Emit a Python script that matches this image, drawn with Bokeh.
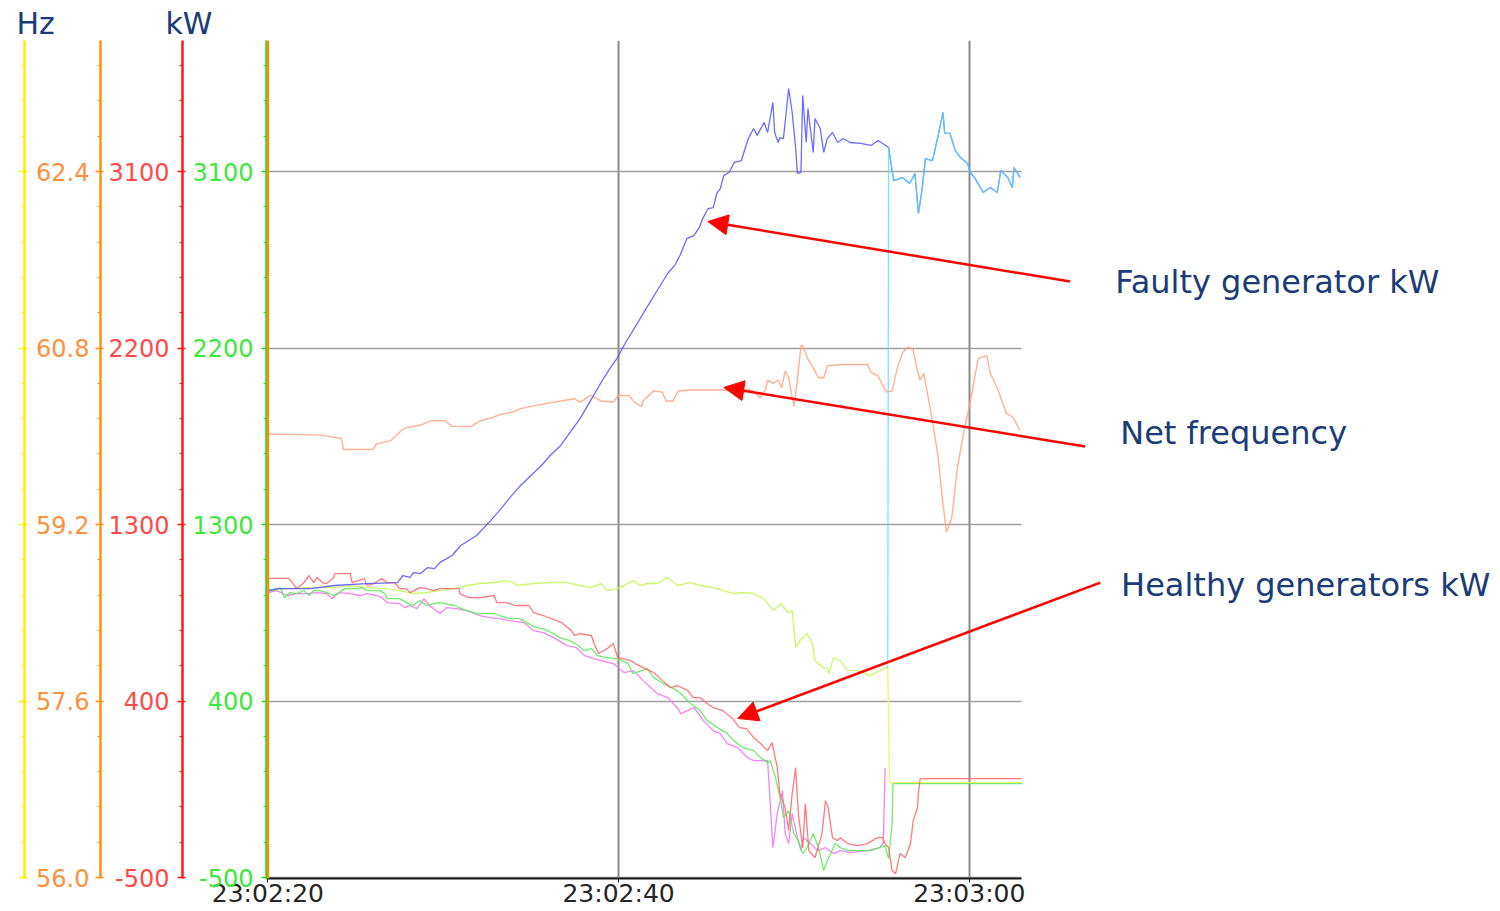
import numpy as np
from bokeh.plotting import figure
from bokeh.layouts import column
from bokeh.models import (LinearAxis, Range1d, FixedTicker, Label, Arrow,
                          NormalHead, Span)
from bokeh.embed import file_html
from bokeh.resources import INLINE

FONT = "DejaVu Sans"
NAVY = "#1b3c78"

# ---------------- data (time in s after 23:02:20) ----------------
x_tick_values = [0, 20, 40]
x_tick_labels = ["23:02:20", "23:02:40", "23:03:00"]
kw_ticks = [-500, 400, 1300, 2200, 3100]
kw_tick_labels = ["-500", "400", "1300", "2200", "3100"]
hz_ticks = [56.0, 57.6, 59.2, 60.8, 62.4]
hz_tick_labels = ["56.0", "57.6", "59.2", "60.8", "62.4"]

faulty_t = [0, 0.5, 2.4, 3.8, 5.6, 7.4, 7.7, 8.1, 8.3, 8.7, 9.1, 9.5, 9.8, 10.2, 10.5,
            11.0, 11.9, 12.7, 13.3, 13.8, 14.4, 15.0, 15.6, 16.1, 16.7, 17.3, 17.8, 18.4,
            19.0, 19.5, 19.9, 20.4, 21.0, 21.5, 22.1, 22.8, 23.2, 23.5, 23.9, 24.3, 24.6,
            24.8, 25.1, 25.4, 25.6, 25.8, 26.0, 26.3, 26.6, 27.0, 27.4, 27.7, 27.9, 28.3,
            28.5, 28.8, 28.9, 29.1, 29.2, 29.4, 29.7, 29.9, 30.1, 30.2, 30.4, 30.5, 30.7,
            30.8, 31.1, 31.2, 31.5, 31.7, 31.9, 32.2, 32.5, 32.8, 33.2, 33.8, 34.4, 34.8,
            35.4, 35.6, 35.7, 36.2, 36.6, 36.9, 37.1, 37.3, 37.5, 37.9, 38.2, 38.5, 38.6,
            38.9, 39.2, 39.5, 39.9, 40.1, 40.3, 40.8, 41.2, 41.6, 41.8, 42.2, 42.45, 42.55, 42.9]
faulty_kw = [960, 973, 973, 989, 999, 1004, 1040, 1030, 1055, 1050, 1080, 1075, 1106, 1126, 1142,
             1193, 1244, 1320, 1381, 1437, 1498, 1550, 1601, 1652, 1703, 1779, 1840, 1932,
             2024, 2095, 2146, 2228, 2315, 2391, 2478, 2580, 2621, 2672, 2758, 2774, 2814,
             2860, 2911, 2916, 2988, 3013, 3080, 3095, 3146, 3156, 3268, 3319, 3284, 3350,
             3299, 3452, 3299, 3248, 3273, 3268, 3523, 3401, 3217, 3090, 3095, 3488, 3248,
             3421, 3197, 3370, 3319, 3197, 3268, 3299, 3248, 3268, 3248, 3243, 3233, 3258,
             3222, 3105, 3054, 3069, 3039, 3090, 2886, 3003, 3166, 3156, 3273, 3401, 3294,
             3294, 3207, 3171, 3141, 3090, 3069, 2993, 3018, 2993, 3105, 3069, 3018, 3120, 3069]

freq_t = [0, 3.0, 4.2, 4.3, 6.0, 6.2, 7.0, 7.6, 7.9, 8.7, 9.3, 10.1, 10.5, 11.6, 12.1, 12.8,
          13.3, 14.0, 14.4, 15.3, 16.7, 17.5, 17.8, 18.4, 19.0, 19.7, 20.0, 20.6, 20.9, 21.3,
          21.4, 22.0, 22.5, 22.7, 23.1, 23.4, 24.1, 25.8, 26.8, 27.0, 27.4, 27.7, 28.1, 28.4,
          28.5, 28.8, 29.1, 29.3, 29.5, 29.7, 30.0, 30.2, 30.4, 30.5, 30.8, 31.1, 31.4, 31.7,
          31.9, 32.8, 34.2, 34.4, 34.8, 35.0, 35.3, 35.6, 35.9, 36.2, 36.5, 36.8, 37.0, 37.2,
          37.4, 37.8, 38.2, 38.5, 38.7, 39.0, 39.3, 39.7, 40.1, 40.5, 40.6, 41.0, 41.2, 41.6,
          42.1, 42.5, 42.9]
freq_hz = [60.02, 60.01, 59.98, 59.88, 59.88, 59.93, 59.96, 60.05, 60.08, 60.10, 60.14, 60.14,
           60.09, 60.09, 60.14, 60.17, 60.20, 60.22, 60.25, 60.28, 60.32, 60.34, 60.31, 60.37,
           60.32, 60.31, 60.37, 60.37, 60.31, 60.27, 60.32, 60.41, 60.40, 60.32, 60.32, 60.41,
           60.42, 60.42, 60.41, 60.37, 60.43, 60.40, 60.35, 60.43, 60.51, 60.48, 60.51, 60.44,
           60.59, 60.53, 60.27, 60.51, 60.82, 60.82, 60.70, 60.62, 60.53, 60.53, 60.64, 60.65,
           60.65, 60.58, 60.55, 60.48, 60.40, 60.41, 60.62, 60.76, 60.81, 60.78, 60.62, 60.51,
           60.57, 60.23, 59.84, 59.39, 59.13, 59.26, 59.69, 60.05, 60.35, 60.70, 60.71, 60.73,
           60.57, 60.44, 60.21, 60.17, 60.05]

red_t = [0, 1.2, 1.65, 2.05, 2.35, 2.6, 2.8, 3.1, 3.35, 3.75, 3.8, 4.7, 4.8, 5.5, 5.65, 6.05,
         6.5, 6.8, 7.25, 7.5, 7.9, 8.1, 8.65, 9.05, 9.45, 9.8, 10.2, 10.9, 10.95, 11.45, 12.1,
         12.9, 13.05, 13.6, 14.1, 14.9, 15.15, 15.7, 16.45, 16.75, 17.3, 17.5, 17.8, 18.45,
         18.6, 18.85, 19.35, 19.7, 19.95, 20.7, 20.95, 21.4, 22.0, 22.5, 22.95, 23.35, 23.95,
         24.25, 24.65, 25.05, 25.4, 25.95, 26.5, 26.9, 27.3, 27.7, 28.1, 28.5, 28.75, 29.05,
         29.2, 29.5, 29.7, 29.9, 30.1, 30.25, 30.5, 30.65, 30.85, 31.2, 31.6, 31.8, 31.95,
         32.2, 32.5, 32.65, 33.05, 33.6, 34.2, 34.75, 35.05, 35.2, 35.4, 35.6, 35.8, 36.05,
         36.35, 36.65, 36.8, 37.05, 37.1, 37.2, 43.0]
red_kw = [1025, 1025, 973, 1004, 1040, 1004, 1030, 1004, 999, 1030, 1050, 1050, 1004, 1024, 989,
          999, 1024, 1004, 1004, 973, 973, 953, 978, 973, 963, 973, 973, 973, 948, 927, 927,
          938, 902, 902, 887, 887, 851, 836, 810, 800, 759, 734, 744, 734, 693, 642, 667, 693,
          621, 606, 591, 570, 545, 504, 468, 479, 453, 417, 417, 387, 366, 351, 310, 264, 259,
          213, 183, 147, 188, 60, -72, -144, -261, -72, 60, -174, -348, -123, -363, -399,
          -276, -108, -144, -297, -312, -297, -327, -337, -327, -297, -297, -327, -348, -465,
          -480, -378, -399, -327, -210, -144, -72, 4, 4]

green_t = [0, 0.35, 0.7, 0.95, 1.25, 1.65, 2.05, 2.35, 2.6, 2.95, 3.35, 3.75, 4.05, 4.4, 4.9,
           5.35, 5.65, 6.4, 6.65, 6.8, 7.5, 7.9, 8.3, 8.65, 9.05, 9.45, 9.8, 10.6, 11.35, 11.9,
           12.9, 13.2, 13.8, 14.35, 14.75, 15.3, 15.7, 16.3, 16.65, 17.2, 17.7, 18.0, 18.45,
           18.8, 19.35, 19.95, 20.55, 20.8, 21.65, 22.0, 22.55, 23.15, 23.55, 24.1, 24.65,
           25.05, 25.65, 26.2, 26.55, 27.1, 27.7, 28.1, 28.5, 28.65, 28.95, 29.25, 29.4, 29.7,
           30.0, 30.25, 30.5, 30.75, 31.1, 31.4, 31.7, 31.9, 32.1, 32.35, 32.65, 33.05, 33.6,
           34.35, 34.9, 35.2, 35.4, 35.6, 35.65, 43.0]
green_kw = [973, 963, 978, 927, 953, 948, 963, 938, 963, 963, 953, 938, 953, 973, 973, 978, 963,
            963, 948, 922, 922, 902, 887, 912, 887, 897, 902, 887, 861, 846, 846, 836, 820, 820,
            800, 774, 769, 744, 723, 708, 683, 657, 667, 632, 621, 616, 591, 540, 565, 519, 489,
            463, 438, 387, 351, 300, 264, 234, 198, 162, 147, 111, 86, 96, 9, -108, -195, -159,
            -276, -312, -378, -348, -276, -348, -465, -414, -378, -327, -348, -363, -363, -363,
            -348, -337, -404, -225, -21, -21]

magenta_t = [0, 0.5, 1.1, 1.65, 2.2, 2.8, 3.35, 3.65, 3.85, 4.1, 4.65, 5.25, 5.65, 6.2, 6.5,
             6.8, 7.5, 7.8, 8.1, 8.5, 8.9, 9.2, 9.45, 9.8, 10.2, 10.75, 11.35, 12.1, 12.65,
             13.2, 13.8, 14.6, 15.15, 15.7, 16.3, 17.05, 17.6, 18.05, 18.6, 19.0, 19.7, 20.3,
             20.85, 21.4, 22.2, 22.8, 23.35, 23.55, 24.3, 24.85, 25.4, 25.8, 26.2, 26.8, 27.35,
             27.7, 28.25, 28.5, 28.8, 29.05, 29.35, 29.5, 29.7, 29.9, 30.2, 30.4, 30.55, 30.95,
             31.35, 31.8, 32.25, 32.65, 33.2, 34.2, 34.9, 35.1, 35.2]
magenta_kw = [953, 963, 938, 948, 948, 953, 948, 922, 938, 953, 948, 938, 948, 938, 927, 902,
              897, 876, 887, 871, 922, 887, 871, 846, 876, 871, 861, 836, 825, 820, 810, 800,
              759, 749, 723, 683, 672, 632, 616, 606, 591, 545, 555, 504, 438, 417, 366, 336,
              366, 300, 249, 234, 183, 162, 111, 96, 96, 96, -348, -174, -57, -276, -327, -174,
              -297, -363, -297, -327, -363, -348, -378, -363, -373, -363, -348, -322, 60]

ygreen_t = [0, 1.1, 2.2, 3.75, 4.65, 5.65, 6.6, 7.5, 8.3, 9.05, 9.8, 10.6, 11.35, 12.1, 12.9,
            13.6, 14.0, 14.2, 15.15, 16.05, 17.05, 17.8, 18.4, 19.0, 19.35, 19.95, 20.85, 21.25,
            21.65, 22.2, 22.8, 23.35, 24.1, 24.65, 25.4, 25.95, 26.55, 27.1, 27.7, 28.25, 28.85,
            29.25, 29.65, 29.9, 30.1, 30.35, 30.75, 31.05, 31.2, 31.7, 31.9, 32.0, 32.25, 32.65,
            33.05, 33.6, 34.35, 34.9, 35.2, 35.35]
ygreen_kw = [963, 973, 978, 978, 989, 978, 973, 963, 948, 953, 963, 973, 989, 999, 1004, 1014,
             1004, 989, 999, 1004, 1004, 989, 978, 999, 963, 973, 1014, 989, 999, 999, 1030, 989,
             1004, 989, 978, 963, 948, 953, 948, 922, 861, 897, 851, 861, 672, 708, 744, 693,
             606, 570, 570, 540, 621, 606, 555, 555, 530, 555, 570, 570]

yellow_t = [35.35, 35.45, 43.0]
yellow_kw = [570, -16, -16]

cyan_t = [35.35] + faulty_t[80:]
cyan_kw = [570] + faulty_kw[80:]

annotations = ["Faulty generator kW", "Net frequency", "Healthy generators kW"]
unit_titles = ["Hz", "kW"]

# ---------------- scales / layout ----------------
W = 1496
PX_PER_S = 17.52
X0 = -0.08
FRAME_LEFT = 267
X1 = X0 + (W - FRAME_LEFT) / PX_PER_S
T_END = 43.0
KW_LO, KW_HI = -505, 3768
HZ_LO = 56 + (KW_LO + 500) * 6.4 / 3600
HZ_HI = 56 + (KW_HI + 500) * 6.4 / 3600

# header strip with the unit titles
head = figure(width=W, height=40, output_backend="svg", toolbar_location=None,
              x_range=Range1d(0, W), y_range=Range1d(0, 40),
              min_border=0, x_axis_location=None, y_axis_location=None)
head.frame_align = False
head.outline_line_color = None
head.grid.visible = False
for txt, xx in zip(unit_titles, (16, 165)):
    head.add_layout(Label(x=xx, y=17, text=txt, text_font=FONT, text_font_size="30px",
                          text_color=NAVY, text_baseline="middle"))

p = figure(width=W, height=870, output_backend="svg", toolbar_location=None,
           x_range=Range1d(X0, X1), y_range=Range1d(KW_LO, KW_HI),
           min_border_top=0, min_border_right=0, min_border_left=0, min_border_bottom=0)
p.frame_align = False
p.extra_y_ranges = {"hz": Range1d(HZ_LO, HZ_HI)}
p.outline_line_color = None
p.background_fill_color = "white"

# x axis
xa = p.xaxis[0]
xa.ticker = FixedTicker(ticks=x_tick_values)
xa.bounds = (X0, T_END)
xa.major_label_overrides = {v: s for v, s in zip(x_tick_values, x_tick_labels)}
xa.major_label_text_font = FONT
xa.major_label_text_font_size = "25px"
xa.major_label_text_color = "#262626"
xa.axis_line_color = "#1a1a1a"
xa.axis_line_width = 2
xa.major_tick_line_color = "#1a1a1a"
xa.major_tick_out = 4
xa.major_tick_in = 0
xa.minor_tick_out = 0
xa.minor_tick_in = 0
xa.major_label_standoff = -4

# grids
p.xgrid.ticker = FixedTicker(ticks=x_tick_values)
p.xgrid.grid_line_color = "#8a8a8a"
p.xgrid.grid_line_width = 2
p.ygrid.grid_line_color = "#a0a0a0"
p.ygrid.grid_line_width = 1.5
p.ygrid.cross_bounds = (X0, T_END)

kw_minor = list(np.arange(-500, 3800, 180))
hz_minor = list(np.round(np.arange(56.0, 63.6, 0.32), 2))


def style_axis(ax, line_col, label_col, standoff, pad):
    ax.axis_line_color = line_col
    ax.axis_line_width = 2.5
    ax.major_tick_line_color = line_col
    ax.major_tick_line_width = 1.5
    ax.minor_tick_line_color = line_col
    ax.major_tick_out = 5
    ax.major_tick_in = 3
    ax.minor_tick_out = 3
    ax.minor_tick_in = 0
    ax.major_label_text_font = FONT
    ax.major_label_text_font_size = "24px"
    ax.major_label_text_color = label_col
    ax.major_label_standoff = standoff
    ax.axis_label = " "
    ax.axis_label_text_font_size = "1px"
    ax.axis_label_standoff = pad


# green (innermost)
ga = p.yaxis[0]
ga.ticker = FixedTicker(ticks=kw_ticks, minor_ticks=kw_minor)
ga.major_label_overrides = dict(zip(kw_ticks, kw_tick_labels))
style_axis(ga, "#22dd22", "#3ce83c", 8, 3)

ra = LinearAxis(ticker=FixedTicker(ticks=kw_ticks, minor_ticks=kw_minor))
ra.major_label_overrides = dict(zip(kw_ticks, kw_tick_labels))
style_axis(ra, "#ff1a1a", "#ff4a4a", 8, 1)
p.add_layout(ra, "left")

oa = LinearAxis(y_range_name="hz", ticker=FixedTicker(ticks=hz_ticks, minor_ticks=hz_minor))
oa.major_label_overrides = dict(zip(hz_ticks, hz_tick_labels))
style_axis(oa, "#ff9010", "#ff9040", 6, 4)
p.add_layout(oa, "left")

ya = LinearAxis(y_range_name="hz", ticker=FixedTicker(ticks=hz_ticks, minor_ticks=hz_minor))
style_axis(ya, "#ffee00", "#ffee00", 0, 14)
ya.major_label_text_color = None
ya.major_tick_out = 6
p.add_layout(ya, "left")

p.add_layout(Span(location=0, dimension="height", line_color="#ff8c00", line_width=2.5))

# series
p.line(ygreen_t, ygreen_kw, line_color="#c8f564", line_width=1.4, line_alpha=0.9)
p.line(yellow_t, yellow_kw, line_color="#f8f060", line_width=1.4, line_alpha=0.9)
p.line(magenta_t, magenta_kw, line_color="#f070f0", line_width=1.3, line_alpha=0.85)
p.line(green_t, green_kw, line_color="#58e858", line_width=1.3, line_alpha=0.85)
p.line(red_t, red_kw, line_color="#ff6464", line_width=1.3, line_alpha=0.85)
p.line(freq_t, freq_hz, y_range_name="hz", line_color="#ffa888", line_width=1.4, line_alpha=0.9)
p.line(faulty_t, faulty_kw, line_color="#5252ff", line_width=1.3, line_alpha=0.85)
p.line(cyan_t, cyan_kw, line_color="#5fd8ff", line_width=1.3, line_alpha=0.8)

# annotations with arrows
ann_pos = [(48.32, 2539), (48.61, 1769), (48.66, 994)]
arrow_pos = [(45.75, 2539, 25.09, 2845), (46.61, 1698, 26.0, 1999), (47.47, 1004, 26.8, 311)]
for txt, (lx, ly), (xs, ys, xe, ye) in zip(annotations, ann_pos, arrow_pos):
    p.add_layout(Label(x=lx, y=ly, text=txt, text_font=FONT, text_font_size="32px",
                       text_color=NAVY, text_baseline="middle"))
    p.add_layout(Arrow(end=NormalHead(size=20, fill_color="#ff0000", line_color="#ff0000"),
                       x_start=xs, y_start=ys, x_end=xe, y_end=ye,
                       line_color="#ff0000", line_width=2.5))

open("out.html", "w").write(file_html(column(head, p, spacing=0), INLINE))
